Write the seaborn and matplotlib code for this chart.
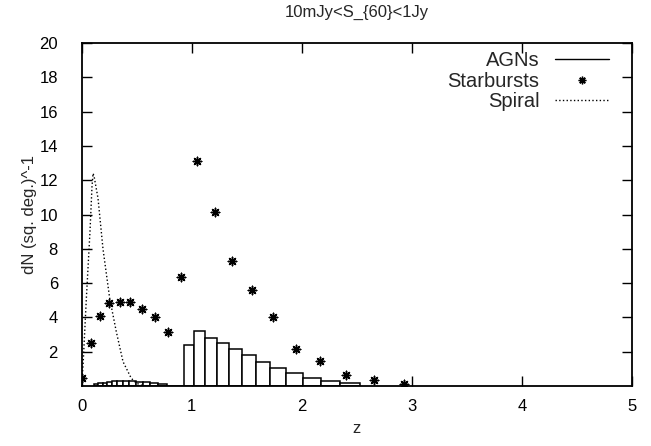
import numpy as np
import pandas as pd
import matplotlib
matplotlib.use('Agg')
import matplotlib.pyplot as plt
import seaborn as sns
from matplotlib.lines import Line2D

# AGN histogram: bin edges (z) and heights
agn_edges = [0.114, 0.153, 0.193, 0.234, 0.280, 0.325, 0.380, 0.434, 0.495, 0.556, 0.622, 0.695, 0.774,
             0.931, 1.022, 1.122, 1.228, 1.337, 1.455, 1.582, 1.715, 1.855, 2.009, 2.173, 2.348, 2.530]
agn_heights = [0.10, 0.15, 0.20, 0.25, 0.27, 0.28, 0.28, 0.27, 0.25, 0.22, 0.18, 0.12,
               0.0,
               2.39, 3.20, 2.82, 2.50, 2.14, 1.79, 1.42, 1.07, 0.76, 0.45, 0.27, 0.16]

# Starbursts points
sb_z = [0.006, 0.085, 0.166, 0.252, 0.348, 0.439, 0.548, 0.667, 0.788, 0.904,
        1.05, 1.21, 1.37, 1.546, 1.743, 1.945, 2.164, 2.40, 2.657, 2.93]
sb_n = [0.48, 2.49, 4.09, 4.86, 4.92, 4.92, 4.47, 4.04, 3.17, 6.34,
        13.12, 10.13, 7.31, 5.60, 4.00, 2.14, 1.44, 0.62, 0.35, 0.12]

# Spiral curve
sp_z = [0.0, 0.014, 0.044, 0.077, 0.095, 0.105, 0.115, 0.15, 0.195, 0.256, 0.316, 0.377, 0.452, 0.50, 0.55, 0.60]
sp_n = [0.0, 1.22, 5.10, 9.00, 11.6, 12.4, 12.2, 10.94, 8.00, 5.11, 3.17, 1.42, 0.45, 0.16, 0.03, 0.0]

sns.set_style('ticks')
plt.rcParams['font.family'] = ['Liberation Sans', 'DejaVu Sans']
plt.rcParams['font.size'] = 12

fig = plt.figure(figsize=(6.51, 4.46), dpi=100)
ax = fig.add_axes([0.1252, 0.1345, 0.8456, 0.7691])

centers = [(agn_edges[i] + agn_edges[i + 1]) / 2 for i in range(len(agn_heights))]
agn = pd.DataFrame({'z': centers, 'n': agn_heights})
sns.histplot(data=agn, x='z', weights='n', bins=agn_edges, stat='count',
             color='white', edgecolor='black', linewidth=1.1, alpha=1, ax=ax)

sns.scatterplot(x=sb_z, y=sb_n, marker=(8, 2, 0), s=36, color='black',
                linewidth=1.1, ax=ax, zorder=3)

sns.lineplot(x=sp_z, y=sp_n, color='black', linestyle=':', linewidth=1.0, ax=ax)

# legend, gnuplot style (text right-aligned, sample on the right)
handles = [Line2D([], [], color='black', linewidth=1.0),
           Line2D([], [], color='black', marker=(8, 2, 0), linestyle='none', markersize=5.5, markeredgewidth=1.0),
           Line2D([], [], color='black', linestyle=':', linewidth=1.0)]
ax.legend(handles, ['AGNs', 'Starbursts', 'Spiral'], loc='upper right', bbox_to_anchor=(0.982, 1.015),
          frameon=False, markerfirst=False, handlelength=2.7, handletextpad=0.75, labelspacing=0.08,
          borderaxespad=0.25, fontsize=14.5)

ax.set_xlim(0, 5)
ax.set_ylim(0, 20)
ax.set_xticks([0, 1, 2, 3, 4, 5])
ax.set_yticks([2, 4, 6, 8, 10, 12, 14, 16, 18, 20])
ax.tick_params(direction='in', length=7, width=1.0, top=True, right=True, labelsize=12, colors='black')
ax.tick_params(axis='x', pad=9)
ax.tick_params(axis='y', pad=17)
for s in ax.spines.values():
    s.set_linewidth(1.3)
    s.set_color('black')

ax.set_xlabel('z', fontsize=12)
ax.set_ylabel('dN (sq. deg.)^-1', fontsize=12)
ax.xaxis.set_label_coords(0.5, -0.124)
ax.xaxis.label.set_va('center')
ax.yaxis.set_label_coords(-0.094, 0.5)
ax.yaxis.label.set_va('center')
ax.set_title('10mJy<S_{60}<1Jy', fontsize=12, pad=19)

fig.savefig('out.png', dpi=100)
